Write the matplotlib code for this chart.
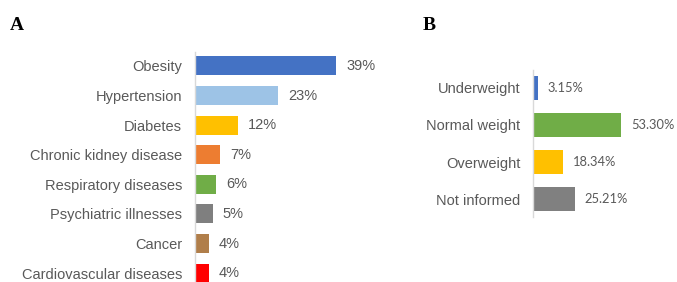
import matplotlib
matplotlib.use("Agg")
import matplotlib.pyplot as plt

# panel A data
conditions = ["Obesity", "Hypertension", "Diabetes", "Chronic kidney disease",
              "Respiratory diseases", "Psychiatric illnesses", "Cancer",
              "Cardiovascular diseases"]
cond_pct = [39, 23, 12, 7, 6, 5, 4, 4]
cond_colors = ["#4472C4", "#9DC3E6", "#FFC000", "#ED7D31",
               "#70AD47", "#7F7F7F", "#B07E4A", "#FF0000"]

# panel B data
weight_cats = ["Underweight", "Normal weight", "Overweight", "Not informed"]
weight_pct = [3.15, 53.30, 18.34, 25.21]
weight_colors = ["#4472C4", "#70AD47", "#FFC000", "#808080"]

W, H = 677, 282
txt = "#595959"
fig = plt.figure(figsize=(W / 100, H / 100), dpi=100)


def px_axes(left, top, width, height):
    return fig.add_axes([left / W, 1 - (top + height) / H, width / W, height / H])


def style(ax):
    for s in ["top", "right", "bottom"]:
        ax.spines[s].set_visible(False)
    ax.spines["left"].set_color("#D9D9D9")
    ax.spines["left"].set_linewidth(1)
    ax.set_xticks([])
    ax.tick_params(axis="y", length=0, pad=9, labelcolor=txt)


# A
axA = px_axes(194.5, 52, 182, 230)
yA = range(len(conditions))
axA.barh(yA, cond_pct, height=0.64, color=cond_colors)
axA.set_xlim(0, 50)
axA.set_ylim(7.3, -0.47)
axA.set_yticks(list(yA))
axA.set_yticklabels(conditions, fontsize=10.5, family="Liberation Sans")
style(axA)
for y, v in zip(yA, cond_pct):
    axA.annotate(f"{v}%", (v, y), xytext=(7.2, 0), textcoords="offset points",
                 va="center", ha="left", fontsize=10.5, color=txt,
                 family="Liberation Sans", annotation_clip=False)

# B
axB = px_axes(532.7, 70, 166, 147)
yB = range(len(weight_cats))
axB.barh(yB, weight_pct, height=0.65, color=weight_colors)
axB.set_xlim(0, 100)
axB.set_ylim(3.486, -0.486)
axB.set_yticks(list(yB))
axB.set_yticklabels(weight_cats, fontsize=10.5, family="Liberation Sans")
style(axB)
for y, v in zip(yB, weight_pct):
    axB.annotate(f"{v:.2f}%", (v, y), xytext=(7.2, 0), textcoords="offset points",
                 va="center", ha="left", fontsize=9.3, color=txt,
                 family="Lato", annotation_clip=False)

fig.text(10 / W, 1 - 30 / H, "A", fontsize=14, fontweight="bold",
         family="Liberation Serif", va="baseline")
fig.text(423 / W, 1 - 30 / H, "B", fontsize=14, fontweight="bold",
         family="Liberation Serif", va="baseline")

fig.savefig("out.png", dpi=100)
